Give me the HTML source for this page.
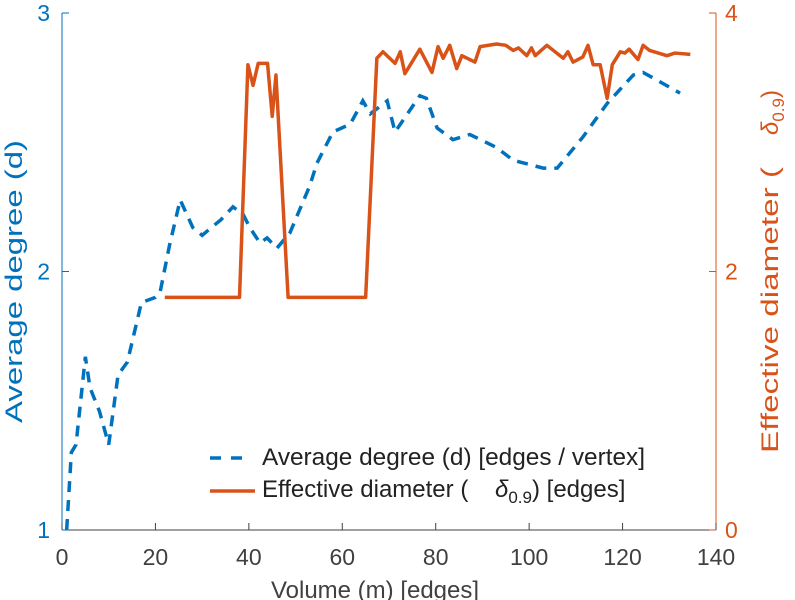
<!DOCTYPE html>
<html><head><meta charset="utf-8"><style>
body{margin:0;background:#fff;}
svg{display:block;font-family:"Liberation Sans",sans-serif;}
</style></head><body>
<svg id="chart" width="795" height="600"></svg>
<script>
const degM=[1,2,3,5,6,8,10,12,14,17,20,21,23,25.3,28,30,34,36.6,38.8,40.2,42.4,43.9,46,48.8,53,54.6,58,61.7,64.4,66,69.6,71.3,76.6,78,80.3,83.7,87.3,93,96.6,103,106,111.5,116.7,122.3,124.4,127.4,132.3];
const degD=[1.0,1.3,1.33,1.67,1.55,1.46,1.33,1.6,1.65,1.88,1.9,1.92,2.1,2.277,2.17,2.14,2.2,2.25,2.22,2.17,2.11,2.13,2.09,2.15,2.33,2.42,2.54,2.57,2.66,2.61,2.66,2.54,2.68,2.67,2.555,2.51,2.53,2.48,2.43,2.4,2.4,2.52,2.65,2.76,2.77,2.74,2.69];
const diaM=[22,38,39.8,40.9,42,44,45,45.8,48.4,65,67.4,68.7,71.3,72.4,73.4,76.6,79.2,80.5,81.6,83,84.5,85.6,88.4,89.5,93,95,96.6,97.7,99.5,100.5,101.3,103.8,107.3,108.3,109.4,111.5,112.6,113.7,115.2,116.7,117.8,119.5,120.5,121.4,123.3,124.4,125.8,129.5,131.2,134.5];
const diaV=[1.8,1.8,3.6,3.44,3.61,3.61,3.2,3.52,1.8,1.8,3.65,3.7,3.61,3.7,3.53,3.72,3.54,3.74,3.65,3.75,3.57,3.67,3.62,3.74,3.76,3.75,3.71,3.73,3.67,3.73,3.67,3.75,3.65,3.7,3.62,3.66,3.75,3.6,3.6,3.34,3.6,3.7,3.69,3.72,3.64,3.75,3.71,3.67,3.69,3.68];
const xTicks=[0,20,40,60,80,100,120,140];
const yLTicks=[1,2,3];
const yRTicks=[0,2,4];
const L=62,R=716,T=13,B=530;
const xs=m=>L+m*(R-L)/140;
const yl=d=>B-(d-1)*(B-T)/2;
const yr=v=>B-v*(B-T)/4;
const svg=document.getElementById('chart');
const NS='http://www.w3.org/2000/svg';
function mk(tag,attrs,parent){const e=document.createElementNS(NS,tag);for(const k in attrs)e.setAttribute(k,attrs[k]);(parent||svg).appendChild(e);return e;}
const BL='#0072BD',OR='#D95319',GR='#404040';
let ax=mk('line',{x1:L,y1:B,x2:R,y2:B,stroke:GR,'stroke-width':1});


ax=mk('line',{x1:L,y1:T,x2:L,y2:B,stroke:BL,'stroke-width':1});


ax=mk('line',{x1:R,y1:T,x2:R,y2:B,stroke:OR,'stroke-width':1});


xTicks.forEach(t=>{
  mk('line',{x1:xs(t),y1:B,x2:xs(t),y2:B-7,stroke:GR});
  const tx=mk('text',{x:xs(t),y:565,'text-anchor':'middle','font-size':23,fill:GR});
  tx.textContent=t;
  
  
});
yLTicks.forEach(t=>{
  mk('line',{x1:L,y1:yl(t),x2:L+7,y2:yl(t),stroke:BL});
  const tx=mk('text',{x:L-12,y:yl(t)+8,'text-anchor':'end','font-size':23,fill:BL});
  tx.textContent=t;
  
  
});
yRTicks.forEach(t=>{
  mk('line',{x1:R,y1:yr(t),x2:R-7,y2:yr(t),stroke:OR});
  const tx=mk('text',{x:R+9,y:yr(t)+8,'font-size':23,fill:OR});
  tx.textContent=t;
  
  
});
let t=mk('text',{x:375,y:598,'text-anchor':'middle','font-size':24,fill:GR});t.textContent='Volume (m) [edges]';


t=mk('text',{transform:'translate(22,423) rotate(-90)','font-size':24,fill:BL,textLength:283,lengthAdjust:'spacingAndGlyphs'});t.textContent='Average degree (d)';


t=mk('text',{transform:'translate(778,453) rotate(-90)','font-size':24,fill:OR});
t.innerHTML='<tspan textLength="286" lengthAdjust="spacingAndGlyphs">Effective diameter (</tspan><tspan x="318" font-style="italic">δ</tspan><tspan font-size="17" dy="6">0.9</tspan><tspan dy="-6">)</tspan>';


let p=mk('polyline',{points:degM.map((m,i)=>xs(m)+','+yl(degD[i])).join(' '),fill:'none',stroke:BL,'stroke-width':3.5,'stroke-dasharray':'11,8'});


p=mk('polyline',{points:diaM.map((m,i)=>xs(m)+','+yr(diaV[i])).join(' '),fill:'none',stroke:OR,'stroke-width':3.5,'stroke-linejoin':'round'});


const lg=mk('g',{});


mk('line',{x1:210,y1:458,x2:250,y2:458,stroke:BL,'stroke-width':3.5,'stroke-dasharray':'11,10'},lg);
t=mk('text',{x:262,y:465,'font-size':24,fill:'#222',textLength:383,lengthAdjust:'spacingAndGlyphs'},lg);t.textContent='Average degree (d) [edges / vertex]';


mk('line',{x1:210,y1:491,x2:255,y2:491,stroke:OR,'stroke-width':3.5},lg);
t=mk('text',{x:262,y:497,'font-size':24,fill:'#222'},lg);
t.innerHTML='Effective diameter (<tspan x="495" font-style="italic">δ</tspan><tspan font-size="17" dy="6">0.9</tspan><tspan dy="-6">) [edges]</tspan>';


</script>
</body></html>
